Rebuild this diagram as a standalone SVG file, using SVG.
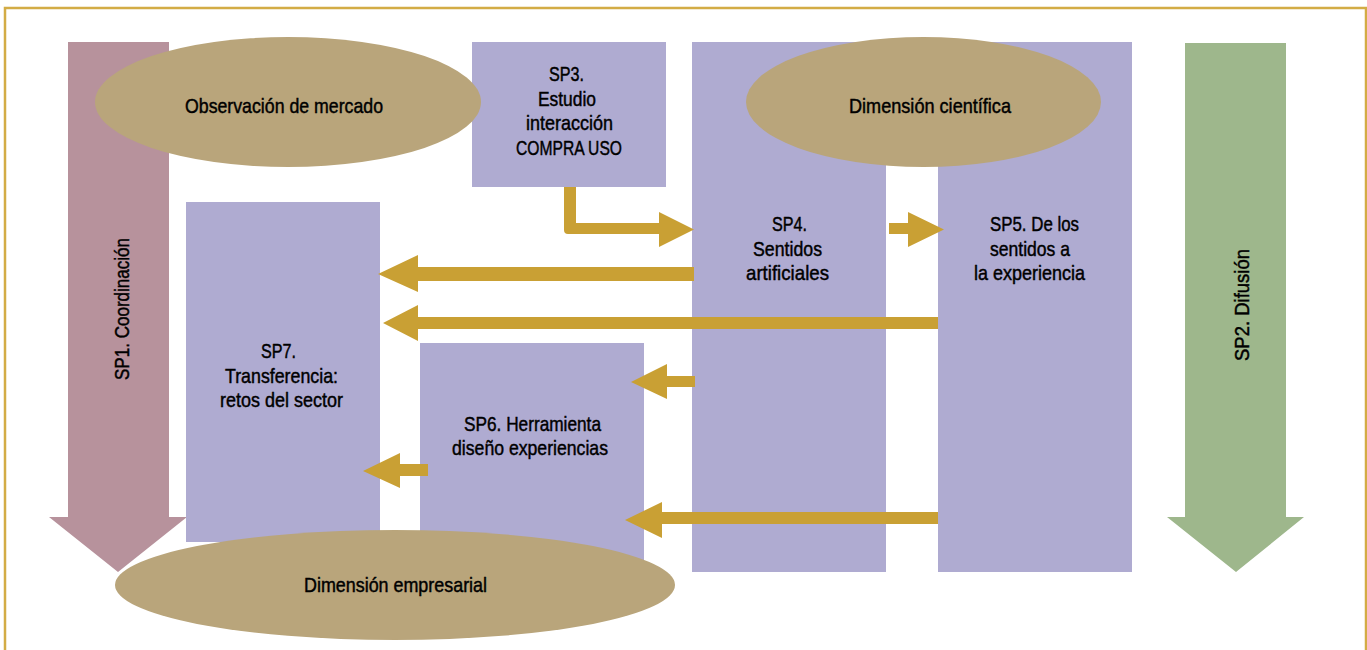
<svg xmlns="http://www.w3.org/2000/svg" width="1367" height="650" viewBox="0 0 1367 650">
<style>
.frame{fill:#ffffff;stroke:#d3ac45;stroke-width:2.5}
.box{fill:#afabd1}
.ell{fill:#b9a57b}
.arr{fill:#c9a034}
.sp1{fill:#b7929c}
.sp2{fill:#9eb78c}
text{font-family:"Liberation Sans",Arial,sans-serif;font-size:21px;fill:#000;stroke:#000;stroke-width:0.45;text-anchor:start}
</style>
<rect class="frame" x="5" y="8" width="1361" height="700"/>
<g id="sp1">
<polygon class="sp1" points="68,42 169,42 169,517 187,517 118,572 49,517 68,517"/>
<text transform="translate(129,380) rotate(-90)" textLength="142" lengthAdjust="spacingAndGlyphs">SP1. Coordinación</text>
</g>
<g id="sp2">
<polygon class="sp2" points="1185,43 1286,43 1286,517 1304,517 1236,572 1167,517 1185,517"/>
<text transform="translate(1249,361) rotate(-90)" textLength="112" lengthAdjust="spacingAndGlyphs">SP2. Difusión</text>
</g>
<g id="sp7">
<rect class="box" x="186" y="202" width="194" height="340"/>
<text x="261" y="358" textLength="35" lengthAdjust="spacingAndGlyphs">SP7.</text>
<text x="225" y="383" textLength="113" lengthAdjust="spacingAndGlyphs">Transferencia:</text>
<text x="220" y="407" textLength="123" lengthAdjust="spacingAndGlyphs">retos del sector</text>
</g>
<g id="sp6">
<rect class="box" x="420" y="343" width="224" height="220"/>
<text x="464" y="431" textLength="137" lengthAdjust="spacingAndGlyphs">SP6. Herramienta</text>
<text x="452" y="455" textLength="156" lengthAdjust="spacingAndGlyphs">diseño experiencias</text>
</g>
<g id="sp4">
<rect class="box" x="692" y="42" width="194" height="530"/>
<text x="772" y="231" textLength="35" lengthAdjust="spacingAndGlyphs">SP4.</text>
<text x="753" y="256" textLength="69" lengthAdjust="spacingAndGlyphs">Sentidos</text>
<text x="746" y="280" textLength="83" lengthAdjust="spacingAndGlyphs">artificiales</text>
</g>
<g id="sp5">
<rect class="box" x="938" y="42" width="194" height="530"/>
<text x="990" y="231" textLength="89" lengthAdjust="spacingAndGlyphs">SP5. De los</text>
<text x="990" y="256" textLength="80" lengthAdjust="spacingAndGlyphs">sentidos a</text>
<text x="974" y="280" textLength="111" lengthAdjust="spacingAndGlyphs">la experiencia</text>
</g>
<g id="sp3">
<rect class="box" x="472" y="42" width="194" height="145"/>
<text x="549" y="81" textLength="35" lengthAdjust="spacingAndGlyphs">SP3.</text>
<text x="538" y="106" textLength="58" lengthAdjust="spacingAndGlyphs">Estudio</text>
<text x="526" y="130" textLength="87" lengthAdjust="spacingAndGlyphs">interacción</text>
<text x="516" y="155" textLength="106" lengthAdjust="spacingAndGlyphs">COMPRA USO</text>
</g>
<g id="observacion">
<ellipse class="ell" cx="288" cy="102" rx="193" ry="65"/>
<text x="185" y="113" textLength="198" lengthAdjust="spacingAndGlyphs">Observación de mercado</text>
</g>
<g id="cientifica">
<ellipse class="ell" cx="923.5" cy="102" rx="177.5" ry="65"/>
<text x="849" y="113" textLength="162" lengthAdjust="spacingAndGlyphs">Dimensión científica</text>
</g>
<g id="empresarial">
<ellipse class="ell" cx="395" cy="585" rx="280" ry="55"/>
<text x="304" y="592" textLength="183" lengthAdjust="spacingAndGlyphs">Dimensión empresarial</text>
</g>
<g id="connectors">
<path class="arr" d="M564,187 V230 Q564,234 568,234 H659 V247 L694,229.5 L659,212 V223 H576 V187 Z"/>
<path class="arr" d="M889,223 H908 V212 L944,229.5 L908,247 V234 H889 Z"/>
<path class="arr" d="M694,267 H418 V255 L378,274 L418,292 V281 H694 Z"/>
<path class="arr" d="M938,317 H418 V305 L383,323 L418,341 V329 H938 Z"/>
<path class="arr" d="M695,376 H667 V364 L631,382 L667,399 V387 H695 Z"/>
<path class="arr" d="M938,512 H662 V502 L625,520 L662,538 V524 H938 Z"/>
<path class="arr" d="M428,464 H400 V453 L363,471 L400,488 V476 H428 Z"/>
</g>
</svg>
